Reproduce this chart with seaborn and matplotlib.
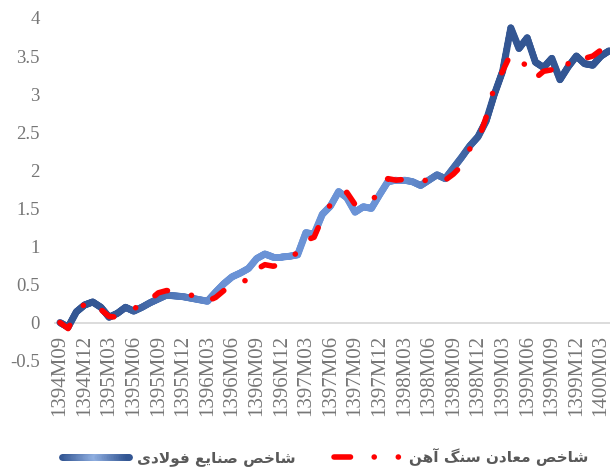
import numpy as np
import pandas as pd
import matplotlib
matplotlib.use("Agg")
import matplotlib.pyplot as plt
import seaborn as sns
from matplotlib.collections import LineCollection
from matplotlib.colors import LinearSegmentedColormap
from matplotlib.legend_handler import HandlerBase
from matplotlib.lines import Line2D

# monthly index values, 1394M09 .. 1400M04
steel = [0.00, -0.06, 0.14, 0.23, 0.27, 0.20, 0.07, 0.12, 0.20, 0.15,
         0.20, 0.26, 0.31, 0.36, 0.35, 0.34, 0.32, 0.30, 0.28, 0.40,
         0.51, 0.60, 0.65, 0.71, 0.84, 0.90, 0.86, 0.86, 0.87, 0.89,
         1.18, 1.16, 1.42, 1.53, 1.72, 1.64, 1.45, 1.52, 1.50, 1.68,
         1.85, 1.87, 1.87, 1.85, 1.80, 1.87, 1.94, 1.89, 2.03, 2.17,
         2.32, 2.44, 2.65, 3.00, 3.30, 3.87, 3.60, 3.74, 3.42, 3.35,
         3.47, 3.19, 3.36, 3.50, 3.40, 3.38, 3.50, 3.57]
iron_ore = [0.00, -0.08, 0.14, 0.24, 0.27, 0.17, 0.08, 0.07, 0.15, 0.18,
            0.24, 0.30, 0.39, 0.42, 0.41, 0.39, 0.36, 0.32, 0.28, 0.33,
            0.42, 0.52, 0.55, 0.55, 0.70, 0.76, 0.74, 0.76, 0.85, 0.92,
            1.08, 1.12, 1.37, 1.55, 1.68, 1.71, 1.55, 1.52, 1.58, 1.75,
            1.89, 1.87, 1.88, 1.85, 1.85, 1.88, 1.90, 1.87, 1.95, 2.06,
            2.28, 2.38, 2.70, 3.10, 3.30, 3.53, 3.42, 3.38, 3.21, 3.30,
            3.32, 3.25, 3.40, 3.50, 3.47, 3.50, 3.58, 3.62]
months = [f"{1394 + (8 + k) // 12}M{(8 + k) % 12 + 1:02d}" for k in range(len(steel))]
label_steel = "شاخص صنایع فولادی"
label_ore = "شاخص معادن سنگ آهن"

dark_blue = "#335693"
light_blue = "#6B93D6"
grey = "#767676"

# contextual forms for the persian legend text (matplotlib has no shaping)
FORMS = {
    "ا": ("\uFE8D", "\uFE8E"), "آ": ("\uFE81", "\uFE82"),
    "د": ("\uFEA9", "\uFEAA"), "و": ("\uFEED", "\uFEEE"),
    "ش": ("\uFEB5", "\uFEB6", "\uFEB7", "\uFEB8"),
    "خ": ("\uFEA5", "\uFEA6", "\uFEA7", "\uFEA8"),
    "ص": ("\uFEB9", "\uFEBA", "\uFEBB", "\uFEBC"),
    "ن": ("\uFEE5", "\uFEE6", "\uFEE7", "\uFEE8"),
    "ی": ("\uFBFC", "\uFBFD", "\uFBFE", "\uFBFF"),
    "ع": ("\uFEC9", "\uFECA", "\uFECB", "\uFECC"),
    "ف": ("\uFED1", "\uFED2", "\uFED3", "\uFED4"),
    "ل": ("\uFEDD", "\uFEDE", "\uFEDF", "\uFEE0"),
    "م": ("\uFEE1", "\uFEE2", "\uFEE3", "\uFEE4"),
    "س": ("\uFEB1", "\uFEB2", "\uFEB3", "\uFEB4"),
    "گ": ("\uFB92", "\uFB93", "\uFB94", "\uFB95"),
    "ه": ("\uFEE9", "\uFEEA", "\uFEEB", "\uFEEC"),
}


def shape(text):
    out = []
    i = 0
    while i < len(text):
        c = text[i]
        if c not in FORMS:
            out.append(c)
            i += 1
            continue
        prev = text[i - 1] if i > 0 else " "
        joins_prev = prev in FORMS and len(FORMS[prev]) == 4
        if c == "ل" and i + 1 < len(text) and text[i + 1] == "ا":
            out.append("\uFEFC" if joins_prev else "\uFEFB")
            i += 2
            continue
        nxt = text[i + 1] if i + 1 < len(text) else " "
        f = FORMS[c]
        joins_next = len(f) == 4 and nxt in FORMS
        if joins_prev and joins_next:
            out.append(f[3])
        elif joins_prev:
            out.append(f[1])
        elif joins_next:
            out.append(f[2])
        else:
            out.append(f[0])
        i += 1
    return "".join(reversed(out))


line_cmap = LinearSegmentedColormap.from_list(
    "steel_line", [(0, dark_blue), (0.1, dark_blue), (0.3, light_blue),
                   (0.62, light_blue), (0.78, dark_blue), (1, dark_blue)])
legend_cmap = LinearSegmentedColormap.from_list(
    "steel_legend", [(0, dark_blue), (0.5, "#8FAEE0"), (1, dark_blue)])


class GradientHandler(HandlerBase):
    def create_artists(self, legend, orig_handle, xdescent, ydescent,
                       width, height, fontsize, trans):
        xs = np.linspace(-xdescent, width - xdescent, 40)
        y = height / 2 - ydescent
        pts = np.column_stack([xs, np.full_like(xs, y)])
        segs = np.stack([pts[:-1], pts[1:]], axis=1)
        lc = LineCollection(segs, colors=legend_cmap(np.linspace(0, 1, len(segs))),
                            linewidths=5, capstyle="round", transform=trans)
        return [lc]


sns.set_style("white")
plt.rcParams["font.family"] = ["Liberation Serif", "DejaVu Serif"]

df = pd.DataFrame({"pos": np.arange(len(months)), "month": months,
                   "steel": steel, "ore": iron_ore})

fig = plt.figure(figsize=(6.1, 4.68), dpi=100)
ax = fig.add_axes([55 / 610, 107.4 / 468, 555 / 610, 342.6 / 468])

# steel line: drawn by seaborn, then re-stroked with a gradient
sns.lineplot(data=df, x="pos", y="steel", ax=ax, color=dark_blue, lw=5)
base = ax.lines[-1]
xd, yd = np.asarray(base.get_xdata(), float), np.asarray(base.get_ydata(), float)
base.remove()
pts = []
for j in range(len(xd) - 1):
    for s in np.linspace(0, 1, 8, endpoint=False):
        pts.append((xd[j] + s * (xd[j + 1] - xd[j]), yd[j] + s * (yd[j + 1] - yd[j])))
pts.append((xd[-1], yd[-1]))
pts = np.array(pts)
segs = np.stack([pts[:-1], pts[1:]], axis=1)
tt = (segs[:, :, 0].mean(axis=1) - xd.min()) / (xd.max() - xd.min())
ax.add_collection(LineCollection(segs, colors=line_cmap(tt), linewidths=5,
                                 capstyle="round", joinstyle="round", zorder=2))

sns.lineplot(data=df, x="pos", y="ore", ax=ax, color="#FF0000", lw=4)
ore_line = ax.lines[-1]
ore_line.set_linestyle((0, (2.5, 4.4, 0.02, 4.1)))
ore_line.set_dash_capstyle("round")
ore_line.set_zorder(3)

ax.set_xlim(-0.6, 67.1)
ax.set_ylim(-0.5, 4.0)
ax.set_xticks(df["pos"][::3])
ax.set_xticklabels(df["month"][::3])
yt = np.arange(-0.5, 4.01, 0.5)
ax.set_yticks(yt)
ax.set_yticklabels([f"{v:g}" for v in yt])
ax.set_xlabel("")
ax.set_ylabel("")

for side in ["top", "right", "left"]:
    ax.spines[side].set_visible(False)
ax.spines["bottom"].set_position(("data", 0))
ax.spines["bottom"].set_color("#D9D9D9")
ax.spines["bottom"].set_linewidth(1.3)
ax.spines["bottom"].set_zorder(1)

ax.tick_params(axis="x", length=0, pad=9, labelrotation=90, labelsize=15, labelcolor=grey)
ax.tick_params(axis="y", length=0, pad=11, labelsize=13.5, labelcolor=grey)

blue_proxy = Line2D([], [], color=dark_blue)
red_proxy = Line2D([], [], color="#FF0000", lw=4,
                   linestyle=(0, (2.97, 4.26, 0.02, 4.32, 0.02, 10)),
                   dash_capstyle="round")
leg = fig.legend([blue_proxy, red_proxy], [shape(label_steel), shape(label_ore)],
                 loc="center", bbox_to_anchor=(0.533, 11 / 468), ncol=2,
                 frameon=False, handlelength=4.38, handletextpad=0.49,
                 columnspacing=2.54, handler_map={blue_proxy: GradientHandler()},
                 prop={"family": ["DejaVu Sans"], "weight": "bold", "size": 11})
for t in leg.get_texts():
    t.set_color("#595959")

fig.savefig("out.png", dpi=100)
